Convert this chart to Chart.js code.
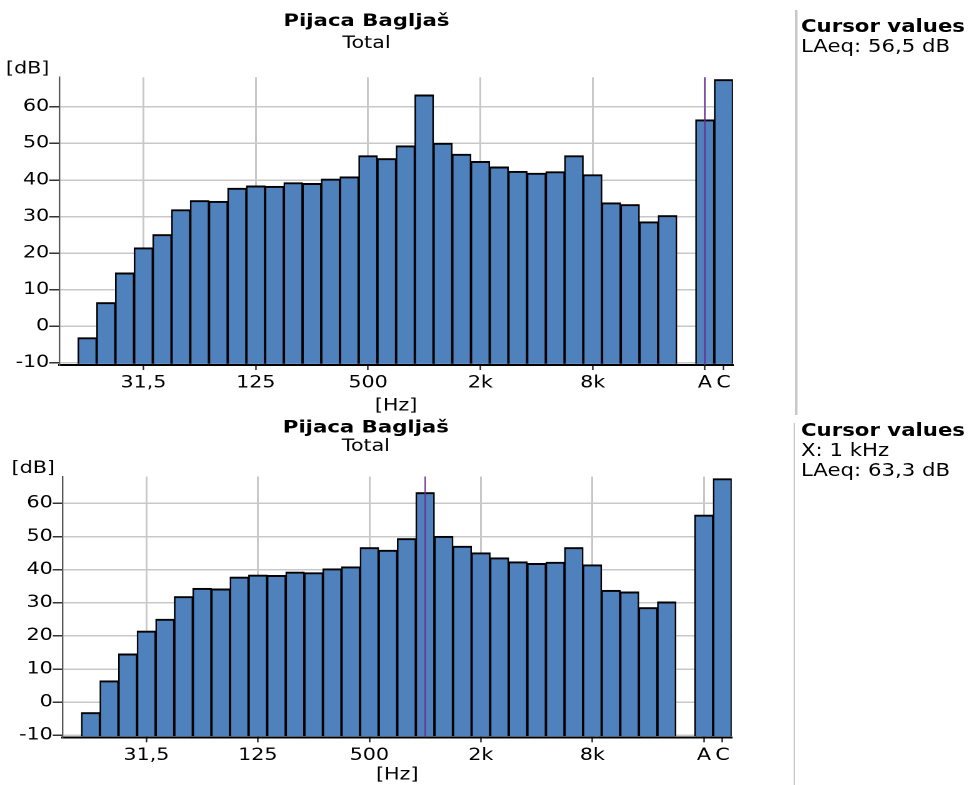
<!DOCTYPE html>
<html>
<head>
<meta charset="utf-8">
<title>Pijaca Bagljaš</title>
<script src="https://cdn.jsdelivr.net/npm/chart.js@4.4.1/dist/chart.umd.min.js"></script>
<style>
    html, body { margin: 0; padding: 0; background: #ffffff; overflow: hidden; }
    /* the original screenshot is stretched sideways, so the whole stage is too */
    #stage {
        position: absolute; left: 0; top: 0;
        width: 776.8px; height: 785px;
        transform: scaleX(1.25); transform-origin: 0 0;
        font-family: 'DejaVu Sans', sans-serif; color: #000;
    }
    canvas { position: absolute; left: 0; }
    #topChart { top: 0; width: 592px; height: 418px; }
    #bottomChart { top: 418px; width: 592px; height: 367px; }
    .sep { position: absolute; width: 1.6px; background: #c8c8c8; }
    .cursor { position: absolute; left: 640.8px; font-size: 17px; line-height: 20px; white-space: nowrap; }
    .cursor b { font-size: 17px; }
</style>
</head>
<body>
<div id="stage">
    <canvas id="topChart" width="592" height="418"></canvas>
    <canvas id="bottomChart" width="592" height="367"></canvas>

    <div class="sep" style="left:636px; top:10px; height:405px;"></div>
    <div class="sep" style="left:634.8px; top:423px; height:362px;"></div>

    <div class="cursor" style="top:16.3px;">
        <b>Cursor values</b><br>LAeq: 56,5 dB
    </div>
    <div class="cursor" style="top:420px;">
        <b>Cursor values</b><br>X: 1 kHz<br>LAeq: 63,3 dB
    </div>
</div>

<script>
// Third-octave bands (empty slot before 16 Hz and before the A / C totals)
const BANDS = ['', '16', '20', '25', '31,5', '40', '50', '63', '80', '100', '125',
    '160', '200', '250', '315', '400', '500', '630', '800', '1k', '1,25k', '1,6k',
    '2k', '2,5k', '3,15k', '4k', '5k', '6,3k', '8k', '10k', '12,5k', '16k', '20k',
    ' ', 'A', 'C'];

// Levels in dB
const LEVELS = [null, -3.1, 6.5, 14.6, 21.5, 25.1, 31.9, 34.4, 34.2, 37.8, 38.4,
    38.3, 39.3, 39.1, 40.3, 40.9, 46.7, 45.9, 49.4, 63.3, 50.1, 47.1,
    45.1, 43.6, 42.4, 41.9, 42.3, 46.7, 41.5, 33.8, 33.3, 28.6, 30.3,
    null, 56.5, 67.5];

// Labelled ticks on the frequency axis
const SHOWN_TICKS = ['31,5', '125', '500', '2k', '8k', 'A', 'C'];
// Ticks that also get a vertical grid line
const GRID_TICKS = ['31,5', '125', '500', '2k', '8k', 'A'];

const Y_MIN = -10.6;
const Y_MAX = 68.1;
const Y_STEP = 10;
const BAR_BASE = -10.3;   // bars stand just on the axis line

Chart.defaults.font.family = "'DejaVu Sans', sans-serif";
Chart.defaults.color = '#000000';

const GRID = '#c8c8c8';
const CLEAR = 'rgba(0,0,0,0)';

// draws the "[dB]" unit above the y axis and the cursor line
const unitAndCursor = {
    id: 'unitAndCursor',
    afterDraw: function(chart, args, opts) {
        const ctx = chart.ctx;
        const area = chart.chartArea;
        ctx.save();
        ctx.font = "16.5px 'DejaVu Sans', sans-serif";
        ctx.fillStyle = '#000000';
        ctx.textBaseline = 'middle';
        ctx.textAlign = 'left';
        ctx.fillText('[dB]', opts.labelX, area.top - 8);

        const cx = chart.scales.x.getPixelForValue(BANDS.indexOf(opts.cursor));
        ctx.strokeStyle = '#6a2c91';
        ctx.lineWidth = 1;
        ctx.beginPath();
        ctx.moveTo(cx, area.top);
        ctx.lineTo(cx, area.bottom);
        ctx.stroke();
        ctx.restore();
    }
};

function shown(index) {
    return SHOWN_TICKS.includes(BANDS[index]);
}

function gridded(index) {
    return GRID_TICKS.includes(BANDS[index]);
}

function buildChart(canvasId, cfg) {
    const ctx = document.getElementById(canvasId).getContext('2d');
    return new Chart(ctx, {
        type: 'bar',
        data: {
            labels: BANDS,
            datasets: [{
                data: LEVELS,
                base: BAR_BASE,
                backgroundColor: '#4f81bd',
                borderColor: function(c) { return c.raw === null ? CLEAR : '#000000'; },
                borderWidth: function(c) {
                    return c.raw === null ? 0 : { top: 2, left: 1.3, right: 1.3, bottom: 0 };
                },
                borderSkipped: 'start',
                barPercentage: 1,
                categoryPercentage: 1
            }]
        },
        options: {
            responsive: false,
            animation: false,
            devicePixelRatio: 2,
            layout: { padding: { left: 0, right: cfg.padRight, top: 0, bottom: 0 } },
            scales: {
                x: {
                    offset: true,
                    grid: {
                        offset: false,
                        lineWidth: 1.5,
                        tickLength: 5,
                        tickWidth: 1.2,
                        color: function(c) { return gridded(c.index) ? GRID : CLEAR; },
                        tickColor: function(c) { return shown(c.index) ? '#222222' : CLEAR; }
                    },
                    border: { color: '#000000', width: 2 },
                    ticks: {
                        autoSkip: false,
                        maxRotation: 0,
                        padding: 3.4,
                        font: { size: 16.5 },
                        callback: function(value, index) {
                            return shown(index) ? BANDS[index] : '';
                        }
                    },
                    title: {
                        display: true,
                        text: '[Hz]',
                        font: { size: 16.5 },
                        padding: { top: 0, bottom: cfg.hzPad }
                    },
                    afterFit: function(scale) { scale.height = cfg.xHeight; }
                },
                y: {
                    min: Y_MIN,
                    max: Y_MAX,
                    grid: { color: GRID, lineWidth: 1.5, tickLength: 8, tickColor: '#333333' },
                    border: { color: '#555555', width: 1.2 },
                    ticks: { stepSize: Y_STEP, includeBounds: false, padding: 0, font: { size: 16.5 } },
                    afterFit: function(scale) { scale.width = cfg.yWidth; }
                }
            },
            plugins: {
                legend: { display: false },
                tooltip: { enabled: false },
                title: {
                    display: true,
                    text: 'Pijaca Bagljaš',
                    font: { size: 17, weight: 'bold', lineHeight: 1 },
                    padding: { top: cfg.titleTop, bottom: 0 }
                },
                subtitle: {
                    display: true,
                    text: 'Total',
                    color: '#000000',
                    font: { size: 16.5, lineHeight: 1 },
                    padding: { top: cfg.subTop, bottom: cfg.subBottom }
                },
                unitAndCursor: { labelX: cfg.labelX, cursor: cfg.cursor }
            }
        },
        plugins: [unitAndCursor]
    });
}

document.addEventListener('DOMContentLoaded', function() {
    // upper chart, cursor on the A total
    buildChart('topChart', {
        padRight: 5.6, yWidth: 47.4, xHeight: 53, hzPad: 1.8,
        titleTop: 13.2, subTop: 5.05, subBottom: 25.55,
        labelX: 4.8, cursor: 'A'
    });

    // lower chart, cursor on 1 kHz
    buildChart('bottomChart', {
        padRight: 6.6, yWidth: 50.2, xHeight: 47.7, hzPad: 0,
        titleTop: 1.4, subTop: 1.9, subBottom: 21.75,
        labelX: 9.3, cursor: '1k'
    });
});
</script>
</body>
</html>
